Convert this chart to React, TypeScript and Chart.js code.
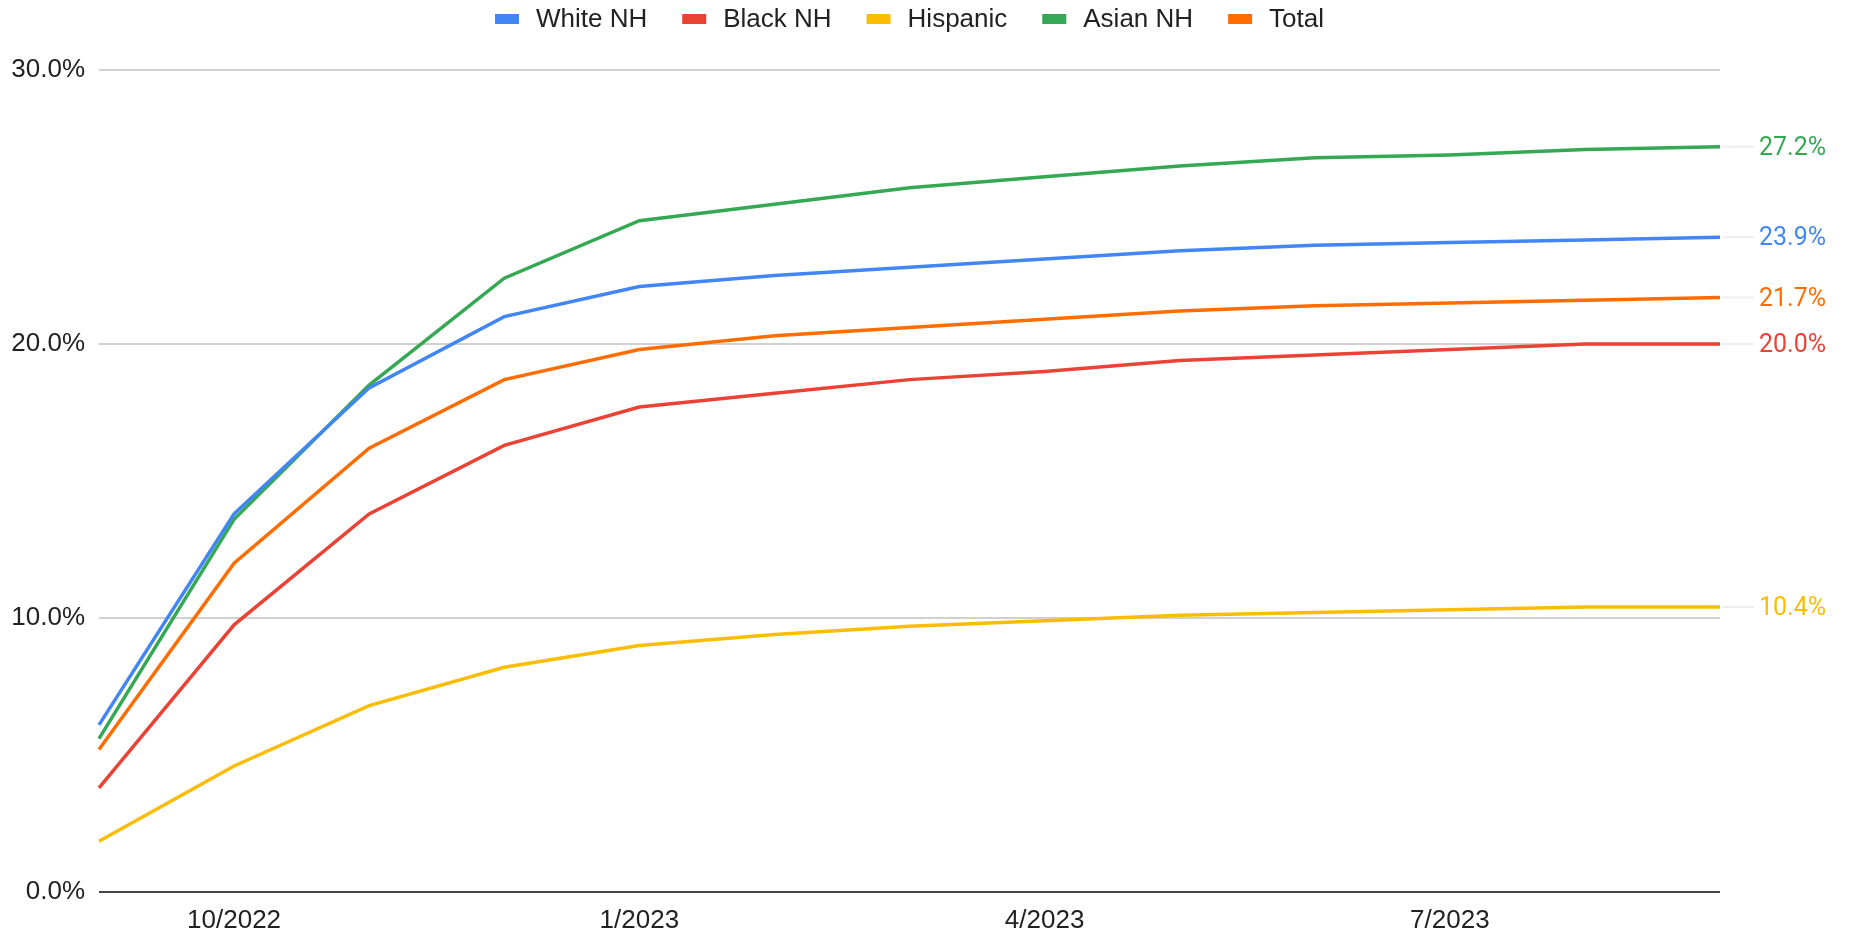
import React, { useEffect, useRef } from "react";
import { Chart, registerables } from "chart.js";

Chart.register(...registerables);

const months: string[] = [
  "9/2022", "10/2022", "11/2022", "12/2022", "1/2023", "2/2023", "3/2023",
  "4/2023", "5/2023", "6/2023", "7/2023", "8/2023", "9/2023",
];
const tickMonths: string[] = ["10/2022", "1/2023", "4/2023", "7/2023"];

const whiteNH: number[] = [6.1, 13.8, 18.4, 21.0, 22.1, 22.5, 22.8, 23.1, 23.4, 23.6, 23.7, 23.8, 23.9];
const blackNH: number[] = [3.8, 9.75, 13.8, 16.3, 17.7, 18.2, 18.7, 19.0, 19.4, 19.6, 19.8, 20.0, 20.0];
const hispanic: number[] = [1.85, 4.6, 6.8, 8.2, 9.0, 9.4, 9.7, 9.9, 10.1, 10.2, 10.3, 10.4, 10.4];
const asianNH: number[] = [5.6, 13.6, 18.5, 22.4, 24.5, 25.1, 25.7, 26.1, 26.5, 26.8, 26.9, 27.1, 27.2];
const total: number[] = [5.2, 12.0, 16.2, 18.7, 19.8, 20.3, 20.6, 20.9, 21.2, 21.4, 21.5, 21.6, 21.7];

const seriesNames: string[] = ["White NH", "Black NH", "Hispanic", "Asian NH", "Total"];
const seriesColors: string[] = ["#4285F4", "#EA4335", "#FBBC04", "#34A853", "#FF6D01"];
const yTicks: number[] = [0, 10, 20, 30];

const TICK_FONT = "'Liberation Sans', Arial, sans-serif";
const END_FONT = "Roboto, 'Liberation Sans', sans-serif";

const endLabels = {
  id: "endLabels",
  afterDatasetsDraw(chart: any) {
    const ctx = chart.ctx;
    const area = chart.chartArea;
    chart.data.datasets.forEach((ds: any, i: number) => {
      const meta = chart.getDatasetMeta(i);
      const pt = meta.data[meta.data.length - 1];
      const v = ds.data[ds.data.length - 1];
      ctx.save();
      ctx.strokeStyle = "#eeeeee";
      ctx.lineWidth = 2;
      ctx.beginPath();
      ctx.moveTo(area.right + 2, pt.y);
      ctx.lineTo(area.right + 34, pt.y);
      ctx.stroke();
      ctx.fillStyle = ds.borderColor;
      ctx.font = `25px ${END_FONT}`;
      ctx.textAlign = "left";
      ctx.textBaseline = "middle";
      ctx.fillText(v.toFixed(1) + "%", area.right + 39, pt.y + 2);
      ctx.restore();
    });
  },
};

const customLegend = {
  id: "customLegend",
  afterDraw(chart: any) {
    const ctx = chart.ctx;
    const area = chart.chartArea;
    ctx.save();
    ctx.font = `26px ${TICK_FONT}`;
    const boxW = 24, boxH = 10, gap = 17, spacing = 35;
    const items = chart.data.datasets.map((ds: any) => ({
      label: ds.label,
      color: ds.borderColor,
      w: ctx.measureText(ds.label).width,
    }));
    const totalW = items.reduce((s: number, it: any) => s + boxW + gap + it.w, 0) + spacing * (items.length - 1);
    let x = (area.left + area.right) / 2 - totalW / 2;
    const y = 19;
    items.forEach((it: any) => {
      ctx.fillStyle = it.color;
      ctx.fillRect(x, y - boxH / 2, boxW, boxH);
      ctx.fillStyle = "#222222";
      ctx.textAlign = "left";
      ctx.textBaseline = "middle";
      ctx.fillText(it.label, x + boxW + gap, y + 1);
      x += boxW + gap + it.w + spacing;
    });
    ctx.restore();
  },
};

export default function App() {
  const canvasRef = useRef<HTMLCanvasElement | null>(null);

  useEffect(() => {
    if (!canvasRef.current) return;
    const seriesData = [whiteNH, blackNH, hispanic, asianNH, total];
    const chart = new Chart(canvasRef.current, {
      type: "line",
      data: {
        labels: months,
        datasets: seriesNames.map((name, i) => ({
          label: name,
          data: seriesData[i],
          borderColor: seriesColors[i],
          backgroundColor: seriesColors[i],
          borderWidth: 3.5,
          pointRadius: 0,
          pointHoverRadius: 0,
          tension: 0,
          fill: false,
        })),
      },
      options: {
        responsive: false,
        animation: false,
        events: [],
        layout: { padding: { top: 70, right: 129, bottom: 0, left: 0 } },
        plugins: {
          legend: { display: false },
          tooltip: { enabled: false },
        },
        scales: {
          x: {
            type: "category",
            offset: false,
            grid: { display: false, drawTicks: false },
            border: { display: false },
            ticks: {
              autoSkip: false,
              maxRotation: 0,
              padding: 13,
              color: "#222222",
              font: { family: TICK_FONT, size: 26 },
              callback: function (this: any, _v: any, idx: number) {
                const lab = months[idx];
                return tickMonths.includes(lab) ? lab : "";
              },
            },
            afterFit: (s: any) => {
              s.height = 43;
            },
          },
          y: {
            min: 0,
            max: 30,
            afterBuildTicks: (s: any) => {
              s.ticks = yTicks.map((v) => ({ value: v }));
            },
            grid: {
              drawTicks: false,
              lineWidth: 2,
              color: (c: any) => (c.tick && c.tick.value === 0 ? "#444444" : "#d0d0d0"),
            },
            border: { display: false },
            ticks: {
              padding: 14,
              color: "#222222",
              font: { family: TICK_FONT, size: 26 },
              callback: (v: any) => Number(v).toFixed(1) + "%",
            },
            afterFit: (s: any) => {
              s.width = 99;
            },
          },
        },
      },
      plugins: [endLabels, customLegend],
    });
    return () => chart.destroy();
  }, []);

  return (
    <div style={{ position: "fixed", left: 0, top: 0, width: 1849, height: 935, background: "#ffffff" }}>
      <canvas ref={canvasRef} width={1849} height={935} style={{ display: "block" }} />
    </div>
  );
}
